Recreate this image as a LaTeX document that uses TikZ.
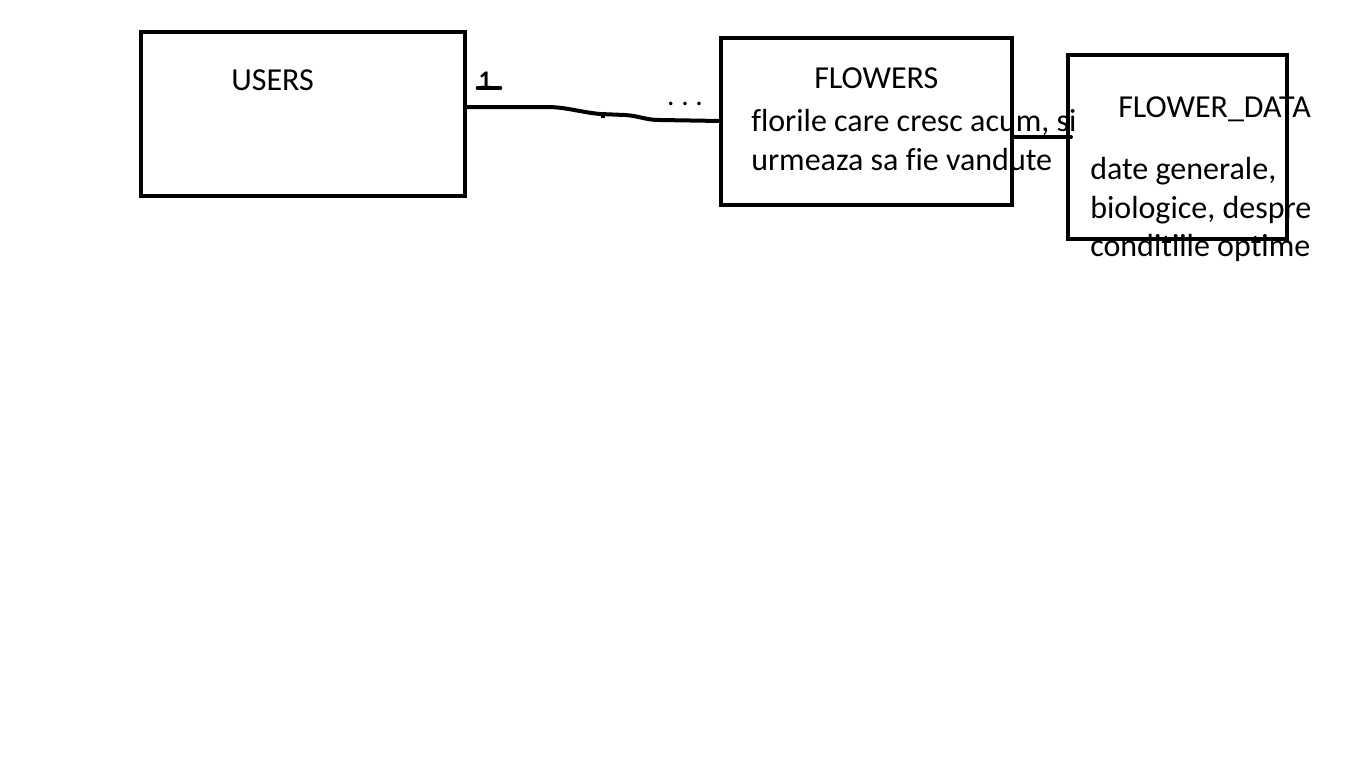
\documentclass[tikz,border=0pt]{standalone}
\usepackage{fontspec}
\setmainfont[Ligatures={NoCommon}]{Carlito}
\begin{document}
\begin{tikzpicture}[x=0.75pt,y=-0.75pt,
  lbl/.style={anchor=base west,inner sep=0pt,font=\fontsize{24pt}{28pt}\selectfont},
  ent/.style={line width=3pt},
  conn/.style={line width=3pt,line cap=round,line join=round}]
\useasboundingbox (0,0) rectangle (1364,772);
\fill[white] (0,0) rectangle (1364,772);
% entities
\draw[ent] (141,32) rectangle (465,196);
\coordinate (usersR) at (465,107);
\draw[ent] (721,38) rectangle (1012,205);
\coordinate (flowersL) at (721,121);
\coordinate (flowersR) at (1012,137);
\draw[ent] (1068,55) rectangle (1287,239);
\coordinate (fdL) at (1071,137);
% texts
\node[lbl] (users) at (231,90) {USERS};
\node[lbl] (flowers) at (814,88) {FLOWERS};
\node[lbl] (fl1) at (751,131) {florile care cresc acum, si};
\node[lbl] (fl2) at (751,170) {urmeaza sa fie vandute};
\node[lbl] (fd) at (1118,117) {FLOWER\_DATA};
\node[lbl] (fd1) at (1090,179) {date generale,};
\node[lbl] (fd2) at (1090,218) {biologice, despre};
\node[lbl] (fd3) at (1090,256) {conditiile optime};
% connectors
\draw[conn] (usersR) -- (550,107) .. controls (570,108) and (580,112) .. (600,114)
  -- (625,115) .. controls (640,116) and (645,120) .. (660,120) -- (flowersL);
\draw[line width=2.5pt] (603,113) -- (603,118);
\draw[conn] (flowersR) -- (fdL);
% multiplicities
\node[anchor=base,inner sep=0pt,font=\bfseries\fontsize{19pt}{21pt}\selectfont] (one) at (485,88) {1};
\draw[line width=3.5pt,line cap=round] (478,88) -- (500,88);
\node[anchor=base,inner sep=0pt,font=\fontsize{22pt}{24pt}\selectfont] (many) at (685,105) {.\hspace{5pt}.\hspace{5pt}.};
\end{tikzpicture}
\end{document}
